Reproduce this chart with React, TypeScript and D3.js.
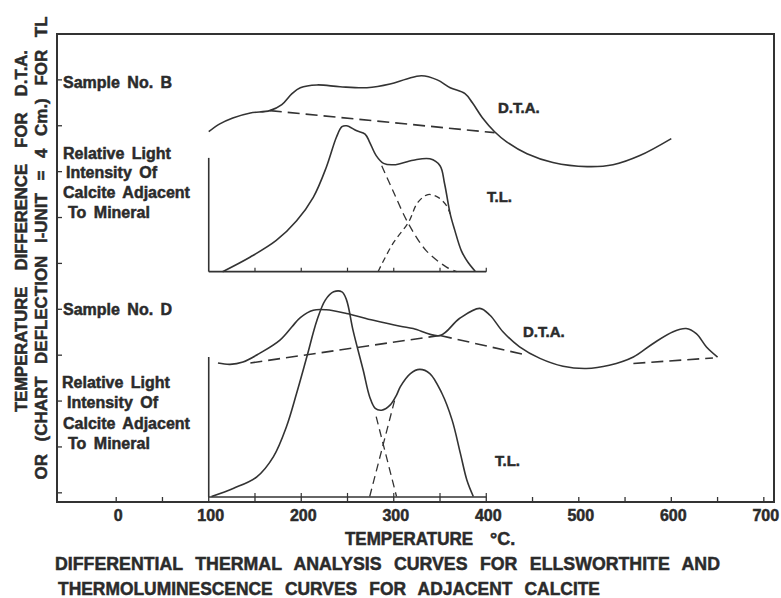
import React from 'react'
import * as d3 from 'd3'

// figure size
const W = 781
const H = 598

// temperature (°C) vs chart units (1 unit = one tick on the left axis)
const dtaB = [[100, 7.87], [112, 8.04], [126, 8.17], [145, 8.28], [166, 8.33], [179, 8.46], [190, 8.7], [199, 8.83], [217, 8.89], [242, 8.85], [271, 8.83], [296, 8.91], [314, 9.02], [330, 9.09], [347, 9.0], [361, 8.83], [377, 8.7], [385, 8.5], [396, 8.17], [409, 7.87], [422, 7.65], [444, 7.39], [472, 7.2], [509, 7.11], [537, 7.15], [566, 7.35], [600, 7.72]]
const dtaBBase = [[166, 8.33], [409, 7.85]]

const tlB = [[115, 4.82], [145, 5.14], [173, 5.5], [195, 5.93], [213, 6.44], [227, 7.09], [238, 7.75], [244, 7.98], [249, 8.0], [260, 7.89], [269, 7.82], [274, 7.64], [281, 7.35], [289, 7.18], [300, 7.15], [321, 7.25], [339, 7.28], [350, 7.13], [355, 6.73], [361, 6.08], [366, 5.72], [373, 5.28], [380, 5.03], [388, 4.83]]
const tlBPeak1 = [[287, 7.13], [299, 6.59], [316, 5.86], [335, 5.28], [357, 4.92], [368, 4.82]]
const tlBPeak2 = [[283, 4.82], [299, 5.43], [316, 5.9], [326, 6.33], [337, 6.5], [348, 6.44], [357, 6.26], [361, 6.08]]

const dtaD = [[110, 2.83], [123, 2.8], [137, 2.85], [155, 3.04], [177, 3.33], [190, 3.62], [199, 3.82], [213, 3.98], [227, 3.99], [249, 3.91], [278, 3.76], [307, 3.63], [321, 3.58], [350, 3.43], [371, 3.8], [393, 4.02], [404, 3.87], [418, 3.51], [436, 3.18], [458, 2.93], [483, 2.76], [508, 2.71], [533, 2.78], [559, 2.96], [580, 3.25], [602, 3.51], [616, 3.58], [627, 3.47], [638, 3.18], [650, 2.96]]
const dtaDBase1 = [[145, 2.83], [350, 3.43]]
const dtaDBase2 = [[350, 3.43], [444, 3.0]]
const dtaDBase3 = [[559, 2.82], [645, 2.94]]

const tlD = [[103, -0.08], [127, 0.1], [152, 0.35], [170, 0.79], [184, 1.44], [195, 2.17], [206, 2.96], [217, 3.76], [226, 4.2], [235, 4.38], [244, 4.38], [249, 4.2], [256, 3.54], [267, 2.67], [274, 2.09], [280, 1.84], [287, 1.8], [296, 1.91], [303, 2.13], [307, 2.31], [318, 2.6], [328, 2.69], [339, 2.6], [352, 2.17], [363, 1.59], [372, 0.86], [379, 0.28], [386, -0.08]]
const tlDPeak1 = [[281, 1.66], [303, -0.08]]
const tlDPeak2 = [[274, -0.08], [301, 2.02]]

// inner T.L. frames: baseline and top of the vertical scale, in chart units
const tlFrames = [[4.82, 7.3], [-0.09, 2.96]]
const tlFrameRange = [100, 400]
const tlFrameTicks = [150, 200, 250, 300, 350, 400]

const xLabels = [0, 100, 200, 300, 400, 500, 600, 700]
const xMinor = [0, 50, 100, 150, 200, 250, 300, 350, 400, 450, 500, 550, 600, 650, 700]
const yTicks = [0, 1, 2, 3, 4, 5, 6, 7, 8, 9]

const ink = '#333'
const textInk = '#2b2b2b'
const font = "'Liberation Sans', Arial, sans-serif"

const App = () => {
  const left = 57, right = 774, top = 34, bottom = 502

  const x = d3.scaleLinear().domain([-64, 711]).range([left, right])
  const y = d3.scaleLinear().domain([-0.2, 10]).range([bottom, top])

  const smooth = d3.line<number[]>()
    .x(d => x(d[0]))
    .y(d => y(d[1]))
    .curve(d3.curveCatmullRom.alpha(0.5))
  const straight = d3.line<number[]>()
    .x(d => x(d[0]))
    .y(d => y(d[1]))

  // heavy lettering like the drafted original
  const heavy = {fontWeight: 'bold' as const, fill: textInk, stroke: textInk, strokeWidth: 0.5, fontFamily: font}

  const label = (t: string, px: number, py: number, size = 16) => (
    <text x={px} y={py} fontSize={size} wordSpacing={3} {...heavy}>{t}</text>
  )

  return (
    <svg width={W} height={H} style={{position: 'absolute', left: 0, top: 0, background: '#fff'}}>
      {/* outer frame */}
      <rect x={left} y={top} width={right - left} height={bottom - top} fill="none" stroke={ink} strokeWidth={2} />

      {/* left ticks */}
      {yTicks.map(t => (
        <line key={'y' + t} x1={left} x2={left + 5} y1={y(t)} y2={y(t)} stroke={ink} strokeWidth={1.3} />
      ))}

      {/* bottom ticks and labels */}
      {xMinor.map(t => (
        <line key={'x' + t} x1={x(t)} x2={x(t)} y1={bottom} y2={bottom - 5} stroke={ink} strokeWidth={1.3} />
      ))}
      {xLabels.map(t => (
        <text key={'l' + t} x={x(t) + 2} y={521} textAnchor="middle" fontSize={16} {...heavy}>{t}</text>
      ))}

      {/* inner T.L. frames */}
      {tlFrames.map(([b, tp], i) => (
        <g key={'f' + i} stroke={ink} strokeWidth={1.6} fill="none">
          <line x1={x(tlFrameRange[0])} x2={x(tlFrameRange[0])} y1={y(b)} y2={y(tp)} />
          <line x1={x(tlFrameRange[0])} x2={x(tlFrameRange[1])} y1={y(b)} y2={y(b)} />
          {tlFrameTicks.map(t => (
            <line key={t} x1={x(t)} x2={x(t)} y1={y(b)} y2={y(b) - 4} strokeWidth={1.2} />
          ))}
        </g>
      ))}

      <g fill="none" stroke={ink} strokeWidth={1.6} strokeLinejoin="round">
        <path d={smooth(dtaB) || ''} />
        <path d={straight(dtaBBase) || ''} strokeDasharray="12,6" />
        <path d={smooth(tlB) || ''} />
        <path d={smooth(tlBPeak1) || ''} strokeDasharray="8,5" strokeWidth={1.3} />
        <path d={smooth(tlBPeak2) || ''} strokeDasharray="6,4" strokeWidth={1.3} />

        <path d={smooth(dtaD) || ''} />
        <path d={straight(dtaDBase1) || ''} strokeDasharray="12,6" />
        <path d={straight(dtaDBase2) || ''} strokeDasharray="12,6" />
        <path d={straight(dtaDBase3) || ''} strokeDasharray="12,6" />
        <path d={smooth(tlD) || ''} />
        <path d={straight(tlDPeak1) || ''} strokeDasharray="8,5" strokeWidth={1.3} />
        <path d={straight(tlDPeak2) || ''} strokeDasharray="8,5" strokeWidth={1.3} />
      </g>

      {/* panel texts */}
      {label('Sample No. B', 63, 88)}
      {label('Relative Light', 63, 159)}
      {label('Intensity Of', 66, 178)}
      {label('Calcite Adjacent', 63, 198)}
      {label('To Mineral', 68, 218)}
      {label('D.T.A.', 498, 113, 15)}
      {label('T.L.', 487, 202, 15)}

      {label('Sample No. D', 63, 315)}
      {label('Relative Light', 62, 388)}
      {label('Intensity Of', 67, 408)}
      {label('Calcite Adjacent', 63, 429)}
      {label('To Mineral', 68, 449)}
      {label('D.T.A.', 523, 337, 15)}
      {label('T.L.', 495, 466, 15)}

      {/* axis titles */}
      <text transform="translate(27,231) rotate(-90)" textAnchor="middle" fontSize={17} {...heavy}
        wordSpacing={12} textLength={362} lengthAdjust="spacingAndGlyphs">
        TEMPERATURE DIFFERENCE FOR D.T.A.
      </text>
      <text transform="translate(47,248) rotate(-90)" textAnchor="middle" fontSize={17} {...heavy}
        wordSpacing={8} textLength={463} lengthAdjust="spacingAndGlyphs">
        OR (CHART DEFLECTION I-UNIT = 4 Cm.) FOR TL
      </text>

      <text x={345} y={545} fontSize={18} {...heavy} textLength={128} lengthAdjust="spacingAndGlyphs">TEMPERATURE</text>
      <text x={490} y={545} fontSize={18} {...heavy}>°C.</text>

      <text x={55} y={570} fontSize={19} {...heavy} textLength={665} lengthAdjust="spacingAndGlyphs" wordSpacing={8}>
        DIFFERENTIAL THERMAL ANALYSIS CURVES FOR ELLSWORTHITE AND
      </text>
      <text x={58} y={595} fontSize={19} {...heavy} textLength={542} lengthAdjust="spacingAndGlyphs" wordSpacing={8}>
        THERMOLUMINESCENCE CURVES FOR ADJACENT CALCITE
      </text>
    </svg>
  )
}

export default App
